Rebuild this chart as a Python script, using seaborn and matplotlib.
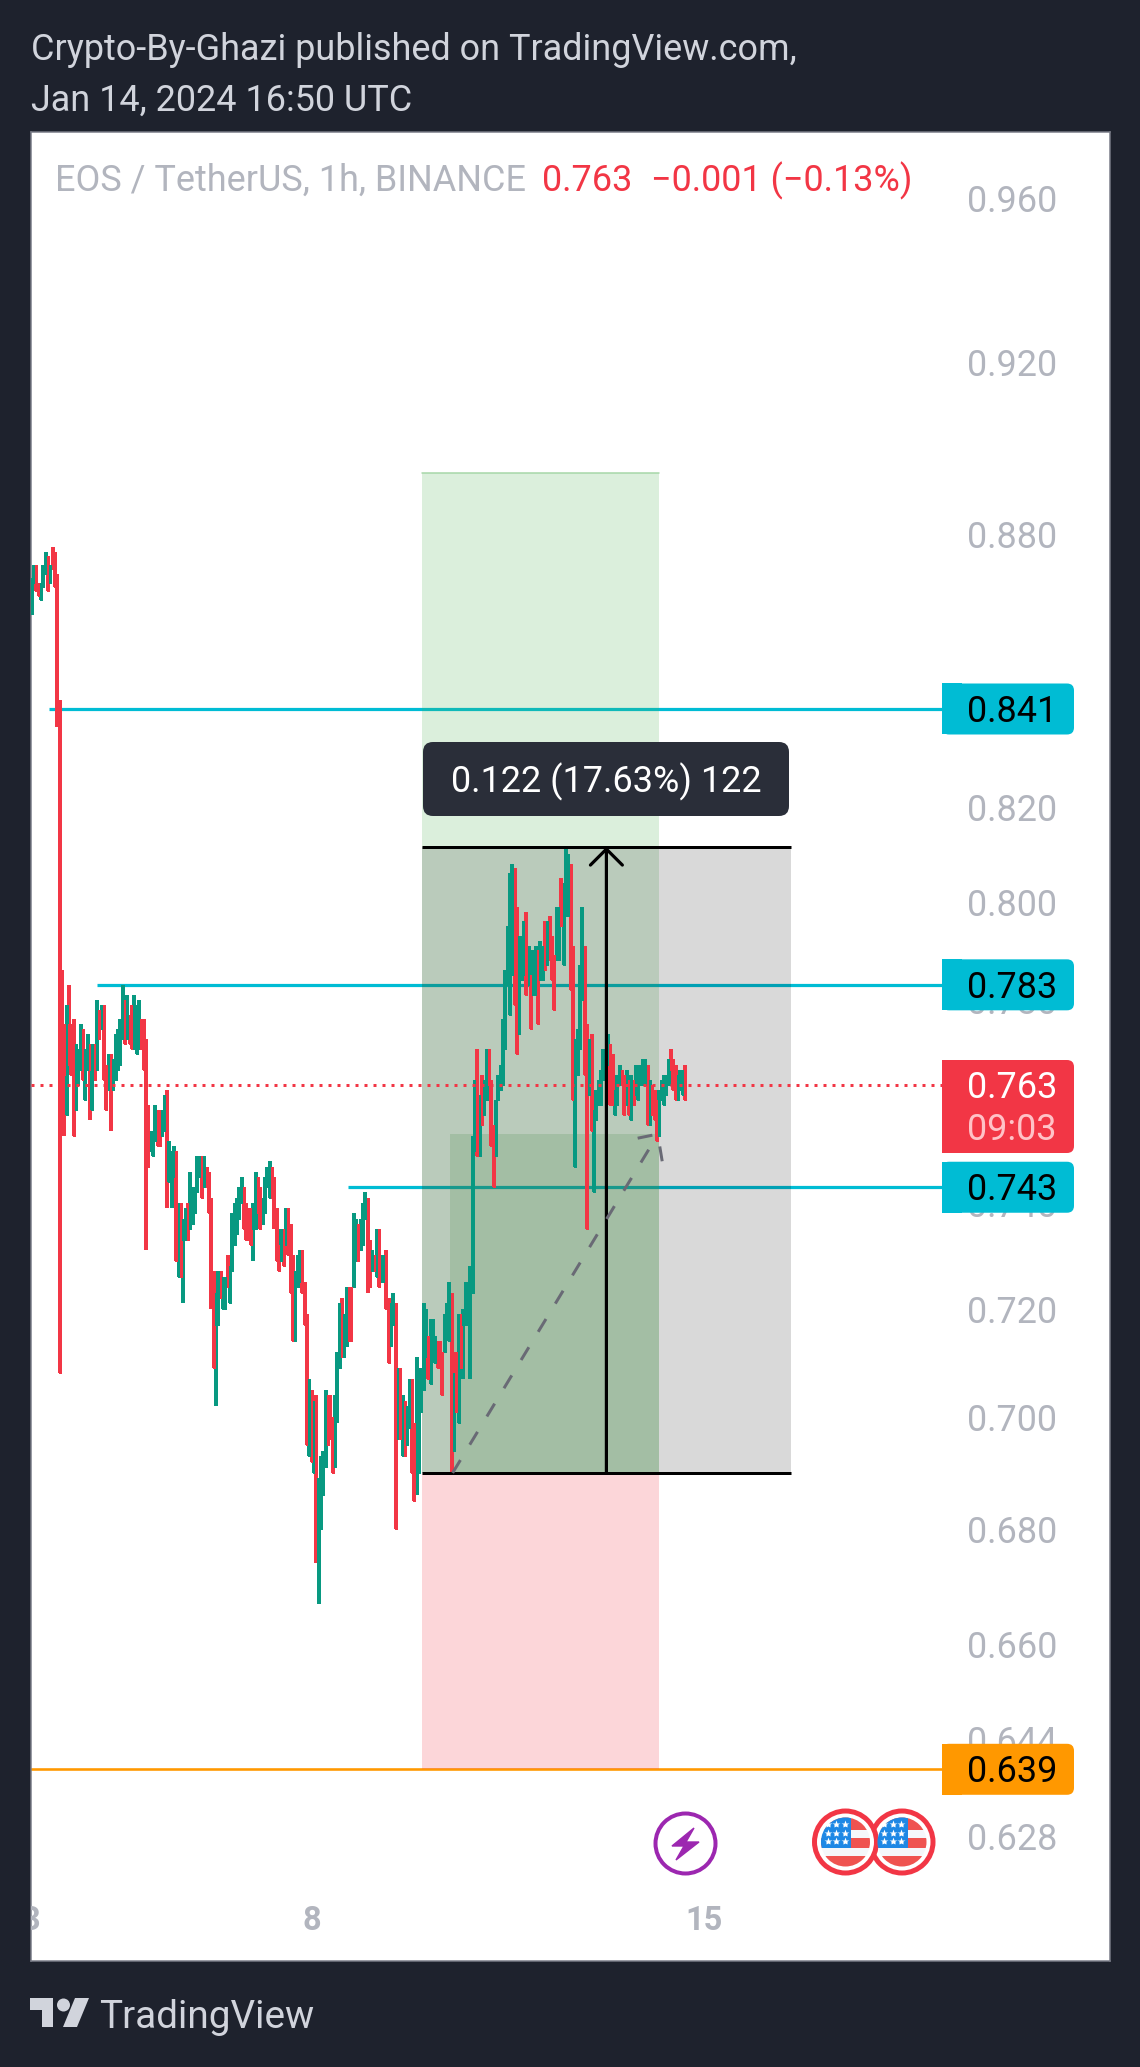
import numpy as np
import pandas as pd
import matplotlib
matplotlib.use("Agg")
import matplotlib.pyplot as plt
import seaborn as sns
from matplotlib.patches import Circle, FancyBboxPatch, Polygon, Rectangle

# candles, one per hour, first one is Jan 3 00:00 (hours counted from Jan 8 00:00)
first_hour = -120

highs = [
	.870,.873,.873,.869,.869,.873,.876,.875,.873,.877,
	.876,.871,.843,.786,.775,.779,.783,.775,.776,.771,
	.770,.775,.774,.770,.773,.771,.771,.771,.780,.778,
	.779,.779,.767,.769,.769,.768,.773,.774,.776,.783,
	.780,.781,.777,.779,.781,.779,.780,.776,.776,.772,
	.759,.754,.754,.759,.758,.758,.758,.761,.762,.752,
	.750,.751,.750,.740,.740,.737,.739,.740,.746,.743,
	.743,.749,.749,.749,.749,.747,.746,.741,.727,.723,
	.727,.727,.726,.726,.730,.728,.738,.740,.741,.743,
	.745,.743,.740,.739,.739,.740,.746,.745,.743,.741,
	.745,.747,.748,.747,.745,.739,.732,.735,.735,.739,
	.739,.736,.730,.727,.730,.731,.731,.725,.719,.707,
	.705,.703,.704,.689,.693,.694,.705,.704,.704,.700,
	.704,.712,.721,.722,.719,.724,.724,.724,.738,.737,
	.736,.737,.740,.742,.741,.733,.731,.730,.735,.735,
	.730,.730,.731,.722,.721,.723,.721,.709,.709,.704,
	.703,.702,.707,.707,.699,.711,.707,.709,.721,.720,
	.715,.718,.718,.715,.714,.714,.712,.719,.721,.725,
	.723,.708,.712,.719,.719,.720,.725,.725,.728,.753,
	.764,.770,.761,.765,.764,.770,.770,.764,.755,.760,
	.765,.767,.776,.786,.795,.806,.808,.807,.799,.793,
	.793,.796,.798,.791,.785,.790,.791,.790,.792,.791,
	.796,.796,.797,.793,.789,.799,.799,.805,.804,.811,
	.810,.808,.791,.772,.774,.787,.799,.791,.775,.772,
	.773,.758,.762,.764,.766,.770,.770,.773,.771,.769,
	.762,.765,.767,.766,.765,.766,.764,.765,.764,.767,
	.767,.767,.768,.768,.767,.764,.763,.762,.760,.762,
	.764,.765,.765,.768,.770,.768,.767,.765,.766,.766,
	.767]

lows = [
	.862,.869,.867,.866,.865,.868,.871,.867,.869,.872,
	.868,.837,.708,.765,.753,.757,.767,.765,.753,.758,
	.763,.766,.764,.760,.766,.756,.758,.764,.766,.772,
	.774,.764,.758,.762,.754,.762,.764,.766,.767,.772,
	.771,.772,.771,.770,.770,.769,.770,.770,.766,.731,
	.747,.750,.749,.752,.751,.751,.753,.754,.739,.744,
	.739,.745,.729,.726,.726,.721,.733,.733,.735,.736,
	.738,.742,.745,.741,.743,.743,.738,.720,.709,.702,
	.717,.722,.720,.720,.724,.721,.727,.732,.734,.737,
	.740,.735,.733,.733,.732,.729,.735,.738,.735,.736,
	.738,.743,.741,.741,.735,.729,.727,.729,.728,.732,
	.730,.723,.714,.714,.724,.725,.723,.717,.695,.693,
	.692,.690,.674,.667,.680,.686,.691,.695,.696,.690,
	.691,.699,.709,.711,.711,.713,.714,.714,.724,.729,
	.729,.731,.732,.737,.723,.724,.727,.727,.726,.724,
	.725,.725,.720,.710,.713,.717,.680,.696,.696,.693,
	.693,.695,.698,.690,.685,.686,.690,.701,.705,.711,
	.707,.706,.711,.710,.709,.709,.704,.712,.717,.714,
	.690,.694,.701,.699,.709,.707,.717,.717,.707,.723,
	.750,.749,.749,.755,.757,.760,.763,.751,.743,.749,
	.760,.762,.763,.770,.783,.777,.785,.779,.769,.773,
	.784,.785,.781,.783,.774,.781,.781,.775,.784,.784,
	.786,.787,.788,.784,.778,.788,.788,.795,.787,.797,
	.797,.782,.760,.747,.765,.770,.780,.765,.735,.761,
	.754,.742,.756,.759,.759,.764,.764,.767,.759,.759,
	.757,.759,.763,.763,.757,.759,.757,.756,.759,.761,
	.760,.763,.763,.763,.755,.755,.757,.756,.752,.753,
	.760,.759,.761,.763,.766,.762,.760,.760,.762,.761,
	.760]

# g = close above open, r = close below open
directions = list(
	"ggrrgggrgr"+"rrrrrgrrrg"+"ggrggrgrgr"+"grrgrggggg"+"rgrrgggrrr"
	+"rgggrrggrg"+"ggrgrggrgg"+"gggrgrrrrg"+"grggrggggg"+"grrrrggrrg"
	+"gggrrrrgrg"+"rrrgggrrrg"+"rgrggggrrr"+"gggrggrrgg"+"rgggrrgrgr"
	+"ggrrggrgrg"+"rggrrggggg"+"rgggrrrggg"+"rgrgrggggg"+"grgrggrrrg"
	+"gggggggrrg"+"ggrgrggrgg"+"rgrrrggrgg"+"grrggggrrg"+"rgggggggrr"
	+"gggrrgrgrg"+"ggggrgrrrg"+"ggggrrrggg"+"r"
)

# bars whose thick body is shorter than the high-low range
bodies = {
	11: (.871,.868), 14: (.775,.765), 16: (.775,.767), 25: (.771,.766), 34: (.769,.762),
	49: (.772,.766), 58: (.762,.754), 60: (.750,.745), 65: (.737,.733), 77: (.741,.738),
	79: (.723,.717), 95: (.740,.735), 104: (.745,.741), 122: (.704,.690), 123: (.689,.680),
	131: (.712,.709), 144: (.741,.733), 165: (.707,.690), 185: (.720,.717), 188: (.728,.717),
}

# .840 and .760 are fully under the price tags in the reference
price_ticks = [.960,.920,.880,.820,.800,.780,.740,.720,.700,.680,.660,.644,.628]
day_hours = [-120,0,168]
day_labels = ["3","8","15"]

# long position + price range tools
entry_price = .690
target_price = .894
stop_price = .639
range_top = .8115
inner_top = .7533
tool_left = 47.3
tool_right = 148.8
range_right = 205.4
inner_left = 59.3
range_mid = 126.3

# abcd dashed path
path_hours = [60.4,147.0]
path_prices = [.690,.7522]
path2_hours = [139.7,148.3,150.4]
path2_prices = [.7525,.7533,.7475]

# horizontal rays: price, first hour, colour
cyan_prices = [.841,.783,.743]
cyan_starts = [-112.6,-92.2,15.7]
last_price = .763
orange_price = .639
ray_end = 270.1

BG = "#1e222d"
GREEN = "#089981"
RED = "#f23645"
CYAN = "#00bcd4"
ORANGE = "#ff9800"
GREY = "#b2b5be"
LIGHT = "#d1d4dc"
FS = 25.9

W,H = 1140,2067
PANE = (31,132,1110,1961)
HOUR_PX = 7/3.0
ZERO_PX = 311.7
px = 0.72  # one pixel in points at dpi 100

def priceToLimit(y):
	return .841*np.exp((709-y)/3860.0)

def candleFrames():
	wick_rows = []
	body_rows = []
	for i in range(len(highs)):
		hour = first_hour+i
		top,bot = bodies.get(i,(highs[i],lows[i]))
		wick_rows += [(i,hour,highs[i]),(i,hour,lows[i])]
		body_rows += [(i,hour,top),(i,hour,bot)]
	cols = ["candle","hour","price"]
	return pd.DataFrame(wick_rows,columns=cols),pd.DataFrame(body_rows,columns=cols)

def drawChart(ax):
	ax.set_yscale("log")
	ax.set_xlim((PANE[0]-ZERO_PX)/HOUR_PX,(PANE[2]-ZERO_PX)/HOUR_PX)
	ax.set_ylim(priceToLimit(PANE[3]),priceToLimit(PANE[1]))
	xlim = ax.get_xlim()
	ylim = ax.get_ylim()

	# rays sit under the tool boxes
	for p,s in zip(cyan_prices,cyan_starts):
		ax.plot([s,ray_end],[p,p],color=CYAN,lw=3.2*px,zorder=2,solid_capstyle="butt")
	ax.plot([xlim[0],ray_end],[orange_price,orange_price],color=ORANGE,lw=2.6*px,zorder=2)

	ax.fill_between([tool_left,tool_right],entry_price,target_price,color="#4caf50",alpha=.2,lw=0,zorder=3)
	ax.fill_between([tool_left,tool_right],stop_price,entry_price,color=RED,alpha=.2,lw=0,zorder=3)
	ax.plot([tool_left,tool_right],[target_price,target_price],color="#a5d6a7",lw=1.5*px,zorder=3)
	ax.fill_between([tool_left,range_right],entry_price,range_top,color="black",alpha=.15,lw=0,zorder=3)
	ax.fill_between([inner_left,tool_right],entry_price,inner_top,color="#4a8a4c",alpha=.2,lw=0,zorder=3)

	# candles are single 2 point lines, hue keeps them in time order
	wicks,body = candleFrames()
	colors = {i:(GREEN if d=="g" else RED) for i,d in enumerate(directions)}
	sns.lineplot(data=wicks,x="hour",y="price",hue="candle",palette=colors,estimator=None,
		legend=False,ax=ax,lw=2.1*px,antialiased=False,solid_capstyle="butt",zorder=4)
	sns.lineplot(data=body,x="hour",y="price",hue="candle",palette=colors,estimator=None,
		legend=False,ax=ax,lw=2.9*px,antialiased=False,solid_capstyle="butt",zorder=4)
	ax.set_xlabel("")
	ax.set_ylabel("")

	ax.plot([xlim[0],ray_end],[last_price,last_price],color=RED,lw=3*px,ls=(0,(1,2)),zorder=5)
	ax.plot([tool_left,range_right],[range_top,range_top],color="black",lw=3*px,zorder=6,solid_capstyle="butt")
	ax.plot([tool_left,range_right],[entry_price,entry_price],color="black",lw=3*px,zorder=6,solid_capstyle="butt")
	ax.annotate("",xy=(range_mid,range_top),xytext=(range_mid,entry_price),zorder=6,
		arrowprops=dict(arrowstyle="->,head_length=11.5,head_width=11.5",mutation_scale=1,color="black",lw=3.2*px,shrinkA=0,shrinkB=0))
	ax.plot(path_hours,path_prices,color="#696a75",lw=3*px,ls=(0,(5,6)),zorder=6)
	ax.plot(path2_hours,path2_prices,color="#696a75",lw=3*px,ls=(0,(5,6)),zorder=6)

	ax.set_xlim(xlim)
	ax.set_ylim(ylim)
	ax.yaxis.tick_right()
	ax.set_yticks(price_ticks,labels=["%.3f"%t for t in price_ticks])
	ax.minorticks_off()
	ax.tick_params(axis="y",length=0,pad=-103,labelsize=FS,labelcolor=GREY)
	ax.set_xticks([])
	for h,lab in zip(day_hours,day_labels):
		ax.text(h,priceToLimit(1921),lab,ha="center",va="center",fontsize=23.5,
			fontweight="bold",color=GREY,clip_on=True)
	for s in ax.spines.values():
		s.set_visible(True)
		s.set_color("#787b86")
		s.set_linewidth(1.5*px)

def drawTag(o,y,h,color):
	o.add_patch(FancyBboxPatch((949,y-h/2+7),118,h-14,boxstyle="round,pad=7",fc=color,ec="none",zorder=3))
	o.add_patch(Rectangle((942,y-h/2),20,h,fc=color,ec="none",zorder=3))

def drawFlag(o,cx,cy):
	o.add_patch(Circle((cx,cy),31,fc="white",ec=RED,lw=5*px,zorder=4))
	clip = Circle((cx,cy),24.5,transform=o.transData)
	parts = [(-25,-25,50,13,"#ef5350"),(-25,-12,50,7.5,"#f5f7fa"),(-25,-4.5,50,10,"#ef5350"),
		(-25,5.5,50,8.5,"#f5f7fa"),(-25,14,50,12,"#ef5350"),(-25,-25,30.5,30.5,"#1e88e5")]
	for x,y,w,h,c in parts:
		r = Rectangle((cx+x,cy+y),w,h,fc=c,ec="none",zorder=5)
		o.add_patch(r)
		r.set_clip_path(clip)
	for dx in (-17.6,-9.3,-1):
		for dy in (-17.6,-9.3,-1):
			o.plot([cx+dx],[cy+dy],marker="*",ms=6,mfc="white",mec="none",zorder=6)

def drawOverlay(o,ax):
	o.set_xlim(0,W)
	o.set_ylim(H,0)
	o.axis("off")

	def ypix(p):
		return H-ax.transData.transform((0,p))[1]

	for p in cyan_prices:
		y = ypix(p)
		drawTag(o,y,51,CYAN)
		o.text(967,y+3,"%.3f"%p,color="black",fontsize=FS,va="center",zorder=4)
	y = ypix(orange_price)
	drawTag(o,y,51,ORANGE)
	o.text(967,y+3,"%.3f"%orange_price,color="black",fontsize=FS,va="center",zorder=4)
	drawTag(o,1106.5,93,RED)
	o.text(967,1088.5,"%.3f"%last_price,color="white",fontsize=FS,va="center",zorder=4)
	o.text(967,1129.5,"09:03",color="#ffc2c7",fontsize=FS,va="center",zorder=4)

	# measure tooltip
	o.add_patch(FancyBboxPatch((433,752),346,54,boxstyle="round,pad=10",fc="#2a2e39",ec="none",zorder=3))
	o.text(606,781.5,"0.122 (17.63%) 122",color="white",fontsize=FS,ha="center",va="center",zorder=4)

	# header + legend
	o.text(31,49.5,"Crypto-By-Ghazi published on TradingView.com,",color=LIGHT,fontsize=FS,va="center")
	o.text(31,100.5,"Jan 14, 2024 16:50 UTC",color=LIGHT,fontsize=FS,va="center")
	o.text(55,181,"EOS / TetherUS, 1h, BINANCE",color=GREY,fontsize=FS,va="center")
	o.text(542,181,"0.763",color=RED,fontsize=FS,va="center")
	o.text(651,181,"\u22120.001 (\u22120.13%)",color=RED,fontsize=FS,va="center")

	# earnings and dividend markers
	o.add_patch(Circle((685.5,1843.5),30,fc="white",ec="#9c27b0",lw=4*px,zorder=3))
	bolt = [(694,1828),(672,1846),(684,1846),(676,1860),(699,1842),(686,1842)]
	o.add_patch(Polygon(bolt,fc="#9c27b0",ec="#9c27b0",lw=1,zorder=4))
	drawFlag(o,902,1842)
	drawFlag(o,845.5,1842)

	# logo
	logo = "#d1d4dc"
	o.add_patch(Polygon([(30,1998),(53,1998),(53,2027),(42,2027),(42,2010),(30,2010)],fc=logo,ec="none"))
	o.add_patch(Circle((63.5,2005),6.5,fc=logo,ec="none"))
	o.add_patch(Polygon([(75,1998),(89,1998),(77,2027),(63,2027)],fc=logo,ec="none"))
	o.text(99,2017,"TradingView",color=logo,fontsize=27.9,va="center")

def main():
	sns.set_theme(style="white")
	plt.rcParams["font.family"] = ["Roboto","DejaVu Sans"]
	fig = plt.figure(figsize=(W/100.0,H/100.0),dpi=100,facecolor=BG)
	ax = fig.add_axes([PANE[0]/W,1-PANE[3]/H,(PANE[2]-PANE[0])/W,(PANE[3]-PANE[1])/H],facecolor="white")
	drawChart(ax)
	o = fig.add_axes([0,0,1,1],facecolor="none")
	drawOverlay(o,ax)
	fig.savefig("out.png",dpi=100,facecolor=BG)

if __name__ == '__main__':
	main()
